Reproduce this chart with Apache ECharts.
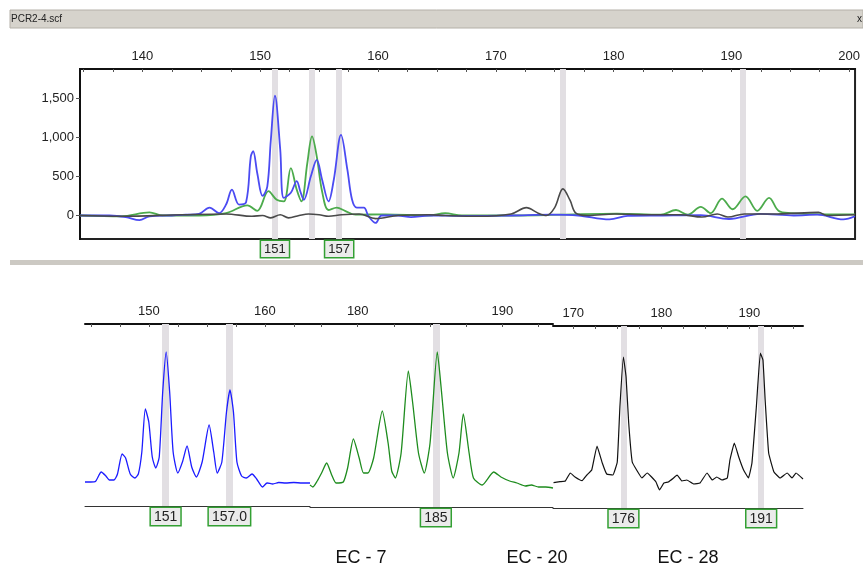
<!DOCTYPE html>
<html>
<head>
<meta charset="utf-8">
<script src="https://cdn.jsdelivr.net/npm/echarts@6/dist/echarts.min.js"></script>
<style>
html, body { margin: 0; background: #fff; }
#main { width: 863px; height: 569px; }
</style>
</head>
<body>
<div id="main"></div>
<script>
// top panel traces (size in bp, intensity in RFU)
const topGreen = [[134.7,0],[138.2,-10],[140.6,40],[141.7,0],[144.8,0],[147.1,30],[148.9,130],[149.75,60],[150.7,310],[151.4,200],[152.0,180],[152.6,605],[153.1,330],[153.5,180],[154.0,670],[154.4,1010],[154.8,755],[155.25,310],[155.8,70],[156.5,100],[157.2,60],[158.1,10],[160.6,15],[164.3,0],[165.7,30],[167.1,0],[171.3,0],[175.5,10],[180.3,25],[184.0,10],[185.3,70],[186.3,10],[187.4,110],[188.25,30],[189.2,215],[190.1,80],[191.2,245],[192.2,60],[193.2,225],[194.0,60],[195.0,30],[198.1,15],[200.5,15]];
const topBlue = [[134.7,0],[137.2,0],[138.6,-20],[139.75,-60],[140.6,-10],[142.5,0],[143.7,10],[144.8,20],[145.7,100],[146.5,30],[147.1,140],[147.6,330],[148.2,140],[148.8,170],[149.2,750],[149.4,820],[149.75,540],[150.2,250],[150.6,370],[150.9,960],[151.25,1530],[151.7,840],[152.0,225],[152.6,290],[153.1,440],[153.4,310],[153.7,200],[154.3,500],[154.8,710],[155.25,460],[155.8,180],[156.25,460],[156.86,1030],[157.4,585],[157.8,200],[158.2,100],[158.8,100],[159.2,-10],[159.8,-95],[160.3,0],[161.7,0],[162.8,-20],[164.3,0],[167.1,-5],[171.3,0],[174.7,10],[177.0,0],[179.65,-50],[181.2,-5],[184.0,0],[187.4,5],[189.8,-45],[192.45,20],[195.3,0],[197.3,10],[199.5,-50],[200.5,-10]];
const topBlack = [[134.7,0],[138.2,-10],[143.4,10],[147.1,20],[149.3,-10],[150.2,0],[150.9,-30],[151.7,10],[152.4,-30],[153.3,0],[154.1,20],[155.0,10],[155.8,-10],[156.9,10],[158.4,20],[159.8,-40],[161.7,0],[164.3,10],[165.7,0],[168.5,-10],[171.3,20],[172.6,100],[173.6,30],[174.3,0],[175.0,100],[175.7,340],[176.3,195],[176.8,30],[177.8,0],[180.1,20],[182.6,10],[185.7,10],[187.5,-20],[188.8,20],[189.7,-20],[191.1,20],[193.9,20],[197.4,40],[198.1,0],[200.5,10]];
const topBands = [151.25, 154.4, 156.7, 175.7, 191.0];
const topBandLabels = ['151', '', '157', '', ''];
const topXLabels = [140, 150, 160, 170, 180, 190, 200];
const topXTicks = [135, 137.5, 140, 142.5, 145, 147.5, 150, 152.5, 155, 157.5, 160, 162.5, 165, 167.5, 170, 172.5, 175, 177.5, 180, 182.5, 185, 187.5, 190, 192.5, 195, 197.5, 200];
const topYLabels = [0, 500, 1000, 1500];

// lower panels
const ec7 = [[144.5,0],[145.0,0],[145.4,5],[145.9,100],[146.3,60],[146.6,20],[147.0,20],[147.3,80],[147.7,280],[148.0,240],[148.4,80],[148.8,40],[149.1,80],[149.4,300],[149.7,730],[150.0,600],[150.3,250],[150.6,140],[150.9,250],[151.2,900],[151.5,1300],[151.8,900],[152.1,300],[152.5,90],[152.9,200],[153.3,360],[153.7,150],[154.1,50],[154.6,200],[155.2,570],[155.6,300],[155.9,90],[156.3,200],[156.7,700],[157.0,920],[157.3,700],[157.6,200],[158.0,60],[158.4,40],[158.9,80],[159.3,30],[159.8,-50],[160.2,-10],[160.7,-20],[161.2,-5],[161.8,-10],[162.5,-5],[163.2,-10],[163.9,-10]];
const ec20 = [[176.7,-20],[176.9,-40],[177.2,20],[177.5,100],[177.85,200],[178.2,80],[178.5,0],[179.0,10],[179.3,150],[179.7,440],[180.1,250],[180.4,100],[180.7,100],[181.1,250],[181.7,720],[182.1,400],[182.35,120],[182.6,50],[183.0,300],[183.5,1120],[183.8,800],[184.2,300],[184.6,100],[185.0,400],[185.5,1310],[185.8,900],[186.2,300],[186.6,50],[187.0,300],[187.3,690],[187.7,300],[188.0,50],[188.6,-20],[189.4,110],[189.9,60],[190.5,20],[191.0,0],[191.6,-30],[192.0,-20],[192.5,-40],[193.0,-40],[193.5,-50]];
const ec28 = [[167.76,-27],[168.5,-17],[169.1,-10],[169.66,70],[170.2,30],[171.0,-7],[171.55,50],[172.1,100],[172.7,340],[173.3,170],[173.8,60],[174.5,50],[175.0,180],[175.3,730],[175.7,1230],[176.0,1030],[176.3,570],[176.7,180],[177.2,100],[177.8,20],[178.4,70],[178.9,30],[179.4,-20],[179.8,-100],[180.3,-30],[180.8,-20],[181.4,20],[181.8,50],[182.35,-10],[182.9,0],[183.7,-40],[184.4,-30],[185.2,70],[185.8,0],[186.3,30],[186.9,0],[187.5,20],[187.8,200],[188.3,370],[188.8,230],[189.35,100],[189.9,20],[190.3,170],[190.8,730],[191.25,1270],[191.55,1200],[191.8,800],[192.2,270],[192.8,80],[193.5,20],[194.3,70],[194.85,20],[195.3,70],[196.1,10]];
const ec7Bands = [151.45, 156.95];
const ec7BandLabels = ['151', '157.0'];
const ec20Bands = [185.4];
const ec20BandLabels = ['185'];
const ec28Bands = [175.7, 191.35];
const ec28BandLabels = ['176', '191'];
const ec7XLabels = [150, 160];
const ec7XTicks = [145, 147.5, 150, 152.5, 155, 157.5, 160, 162.5];
const ec20XLabels = [180, 190];
const ec20XTicks = [177.5, 180, 182.5, 185, 187.5, 190, 192.5];
const ec28XLabels = [170, 180, 190];
const ec28XTicks = [170, 172.5, 175, 177.5, 180, 182.5, 185, 187.5, 190, 192.5, 195];
const sampleNames = ['EC - 7', 'EC - 20', 'EC - 28'];

const FONT = 'Liberation Sans, Arial, sans-serif';
const chart = echarts.init(document.getElementById('main'));

function bandSeries(xi, yi, bands, labels, fontSize, width) {
	return {
		type: 'line', xAxisIndex: xi, yAxisIndex: yi, data: [], z: 1,
		markLine: {
			silent: true, symbol: 'none', z: 1, animation: false,
			lineStyle: { color: '#e2dfe3', width: width, type: 'solid', opacity: 1 },
			data: bands.map((b, i) => ({
				xAxis: b,
				label: labels[i] ? {
					show: true, position: 'start', distance: 2, formatter: labels[i],
					color: '#222', fontSize: fontSize, fontFamily: FONT,
					backgroundColor: '#ebebeb', borderColor: '#33a033', borderWidth: 1.5,
					padding: [2, 3, 1, 3]
				} : { show: false }
			}))
		}
	};
}

function trace(xi, yi, data, color, width, smooth) {
	return {
		type: 'line', xAxisIndex: xi, yAxisIndex: yi, data: data, z: 3,
		showSymbol: false, smooth: smooth, animation: false,
		lineStyle: { color: color, width: width }
	};
}

function panelTop(gi, min, max, labels, ticks, w) {
	return {
		type: 'value', gridIndex: gi, position: 'top', min: min, max: max,
		splitLine: { show: false },
		axisLine: { show: true, onZero: false, lineStyle: { color: '#111', width: w } },
		axisTick: { show: true, customValues: ticks, length: 3, inside: true, lineStyle: { color: '#555' } },
		axisLabel: { customValues: labels, color: '#222', fontSize: 13, margin: 6, fontFamily: FONT }
	};
}

function panelBottom(gi, min, max) {
	return {
		type: 'value', gridIndex: gi, position: 'bottom', min: min, max: max,
		splitLine: { show: false }, axisTick: { show: false }, axisLabel: { show: false },
		axisLine: { show: true, onZero: false, lineStyle: { color: '#333', width: 1 } }
	};
}

const option = {
	backgroundColor: '#fff',
	animation: false,
	textStyle: { fontFamily: FONT },
	grid: [
		{ left: 80, top: 69, width: 778, height: 170, show: true, borderColor: '#222', borderWidth: 2 },
		{ left: 85, top: 324, width: 225, height: 182 },
		{ left: 310, top: 324, width: 243, height: 183 },
		{ left: 553, top: 326, width: 250, height: 182 }
	],
	xAxis: [
		panelTop(0, 134.7, 200.5, topXLabels, topXTicks, 2),
		panelTop(1, 144.5, 163.9, ec7XLabels, ec7XTicks, 2),
		panelBottom(1, 144.5, 163.9),
		panelTop(2, 176.7, 193.5, ec20XLabels, ec20XTicks, 2),
		panelBottom(2, 176.7, 193.5),
		panelTop(3, 167.7, 196.1, ec28XLabels, ec28XTicks, 2),
		panelBottom(3, 167.7, 196.1)
	],
	yAxis: [
		{
			type: 'value', gridIndex: 0, min: -300, max: 1870,
			splitLine: { show: false },
			axisLine: { show: true, onZero: false, lineStyle: { color: '#111', width: 2 } },
			axisTick: { show: true, customValues: topYLabels, length: 4, lineStyle: { color: '#555' } },
			axisLabel: {
				customValues: topYLabels, color: '#222', fontSize: 13, margin: 6,
				formatter: v => String(v).replace(/\B(?=(\d{3})+(?!\d))/g, ',')
			}
		},
		{ type: 'value', gridIndex: 1, min: -240, max: 1580, show: false },
		{ type: 'value', gridIndex: 2, min: -240, max: 1590, show: false },
		{ type: 'value', gridIndex: 3, min: -280, max: 1540, show: false }
	],
	series: [
		bandSeries(0, 0, topBands, topBandLabels, 13, 6),
		trace(0, 0, topGreen, '#4cab4c', 1.8, 0.35),
		trace(0, 0, topBlue, '#4b4bf2', 1.8, 0.35),
		trace(0, 0, topBlack, '#4a4a4a', 1.6, 0.35),
		bandSeries(1, 1, ec7Bands, ec7BandLabels, 14, 7),
		trace(1, 1, ec7, '#1c1cff', 1.3, 0.2),
		bandSeries(3, 2, ec20Bands, ec20BandLabels, 14, 7),
		trace(3, 2, ec20, '#1e8c1e', 1.3, 0.2),
		bandSeries(5, 3, ec28Bands, ec28BandLabels, 14, 6),
		trace(5, 3, ec28, '#111', 1.2, 0.1)
	],
	graphic: [
		{ type: 'rect', shape: { x: 10, y: 10, width: 853, height: 18 }, style: { fill: '#d6d3cc', stroke: '#b4b0a8', lineWidth: 1 } },
		{ type: 'text', x: 11, y: 19, style: { text: 'PCR2-4.scf', fontSize: 10, fill: '#222', verticalAlign: 'middle', fontFamily: FONT } },
		{ type: 'text', x: 857, y: 19, style: { text: 'x', fontSize: 10, fill: '#222', verticalAlign: 'middle', fontFamily: FONT } },
		{ type: 'rect', shape: { x: 10, y: 260, width: 853, height: 5 }, style: { fill: '#ccc9c3' } },
		{ type: 'text', x: 361, y: 558, style: { text: sampleNames[0], fontSize: 18, fill: '#111', align: 'center', verticalAlign: 'middle', fontFamily: FONT } },
		{ type: 'text', x: 537, y: 558, style: { text: sampleNames[1], fontSize: 18, fill: '#111', align: 'center', verticalAlign: 'middle', fontFamily: FONT } },
		{ type: 'text', x: 688, y: 558, style: { text: sampleNames[2], fontSize: 18, fill: '#111', align: 'center', verticalAlign: 'middle', fontFamily: FONT } }
	]
};

chart.setOption(option);
</script>
</body>
</html>
